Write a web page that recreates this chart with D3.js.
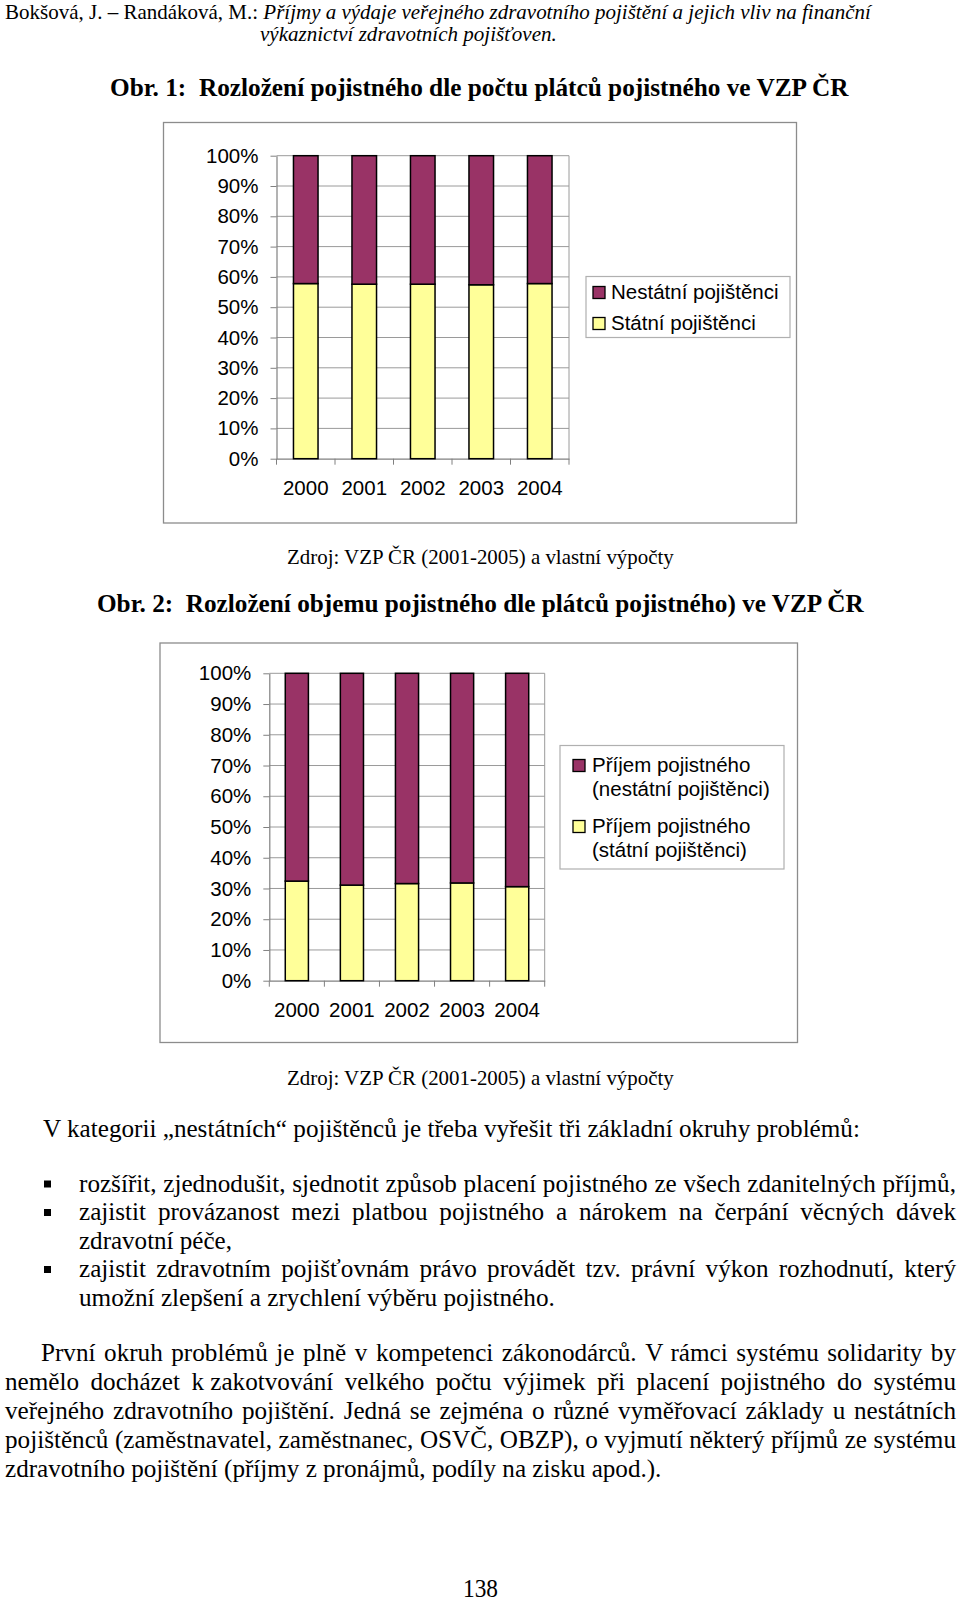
<!DOCTYPE html>
<html><head><meta charset="utf-8">
<script src="https://cdn.jsdelivr.net/npm/d3@7"></script>
<style>body{margin:0;background:#fff} svg{display:block}</style>
</head><body>
<svg id="page" width="960" height="1601"></svg>
<script>
// ---------- DATA ----------
const years = ["2000", "2001", "2002", "2003", "2004"];
const yTicks = [0, 10, 20, 30, 40, 50, 60, 70, 80, 90, 100];
// Obr. 1
const statni1 = [57.8, 57.6, 57.6, 57.4, 57.8];
const nestatni1 = [42.2, 42.4, 42.4, 42.6, 42.2];
const legend1 = [["Nestátní pojištěnci"], ["Státní pojištěnci"]];
// Obr. 2
const statni2 = [32.4, 31.1, 31.6, 31.8, 30.6];
const nestatni2 = [67.6, 68.9, 68.4, 68.2, 69.4];
const legend2 = [["Příjem pojistného", "(nestátní pojištěnci)"], ["Příjem pojistného", "(státní pojištěnci)"]];

const headerLine1 = [{t: "Bokšová, J. – Randáková, M.: ", i: false}, {t: "Příjmy a výdaje veřejného zdravotního pojištění a jejich vliv na finanční", i: true}];
const headerLine2 = "výkaznictví zdravotních pojišťoven.";
const title1 = "Obr. 1:\u00A0\u00A0Rozložení pojistného dle počtu plátců pojistného ve VZP ČR";
const title2 = "Obr. 2:\u00A0\u00A0Rozložení objemu pojistného dle plátců pojistného) ve VZP ČR";
const source = "Zdroj: VZP ČR (2001-2005) a vlastní výpočty";
const introLine = "V kategorii „nestátních“ pojištěnců je třeba vyřešit tři základní okruhy problémů:";
const bulletLines = [
  "rozšířit, zjednodušit, sjednotit způsob placení pojistného ze všech zdanitelných příjmů,",
  "zajistit provázanost mezi platbou pojistného a nárokem na čerpání věcných dávek",
  "zdravotní péče,",
  "zajistit zdravotním pojišťovnám právo provádět tzv. právní výkon rozhodnutí, který",
  "umožní zlepšení a zrychlení výběru pojistného."
];
const paraLines = [
  "První okruh problémů je plně v kompetenci zákonodárců. V rámci systému solidarity by",
  "nemělo docházet k\u00A0zakotvování velkého počtu výjimek při placení pojistného do systému",
  "veřejného zdravotního pojištění. Jedná se zejména o různé vyměřovací základy u nestátních",
  "pojištěnců (zaměstnavatel, zaměstnanec, OSVČ, OBZP), o vyjmutí některý příjmů ze systému",
  "zdravotního pojištění (příjmy z pronájmů, podíly na zisku apod.)."
];
const pageNumber = "138";

// ---------- DRAW ----------
const svg = d3.select("#page");
svg.append("rect").attr("width", 960).attr("height", 1601).attr("fill", "#fff");
const SERIF = "'Liberation Serif','Times New Roman',serif";
const SANS = "'Liberation Sans',Arial,sans-serif";
const PURPLE = "#993366", YELLOW = "#FFFF99", GRID = "#9a9a9a";
const CHART_FS = 20.5;

let condense = 0.95;

function fitText(parts, x, y, w, size, opts = {}) {
  const g = svg.append("g");
  const t = g.append("text").attr("font-family", SERIF).attr("font-size", size)
    .attr("font-weight", opts.bold ? "bold" : "normal").attr("fill", "#000");
  parts.forEach(p => t.append("tspan").text(p.t).attr("font-style", p.i ? "italic" : "normal"));
  const nat = t.node().getComputedTextLength();
  const s = w / nat;
  g.attr("transform", `translate(${x},${y}) scale(${s},1)`);
  return s;
}

function justifyText(str, x, y, w, size) {
  const g = svg.append("g");
  const t = g.append("text").attr("font-family", SERIF).attr("font-size", size).attr("fill", "#000");
  const words = str.split(" ");
  const spans = words.map(wd => t.append("tspan").text(wd));
  const ws = spans.map(s => s.node().getComputedTextLength());
  const sum = d3.sum(ws);
  let c = condense;
  let gap = (w / c - sum) / (words.length - 1);
  if (gap < 0.2 * size) { gap = 0.2 * size; c = w / (sum + gap * (words.length - 1)); }
  let cx = 0;
  spans.forEach((s, i) => { s.attr("x", cx); cx += ws[i] + gap; });
  g.attr("transform", `translate(${x},${y}) scale(${c},1)`);
}

// Header
fitText(headerLine1, 5, 19, 866, 20);
fitText([{t: headerLine2, i: true}], 260, 41, 297, 20);
fitText([{t: title1}], 110, 96, 739, 26, {bold: true});
fitText([{t: source}], 287, 563.5, 387, 22);
fitText([{t: title2}], 97, 611.5, 767, 26, {bold: true});
fitText([{t: source}], 287, 1084.5, 387, 22);

// Body text
condense = fitText([{t: introLine}], 43, 1137, 817, 25);
const bulletY = [1191.5, 1220, 1248.5, 1277, 1305.5];
const bulletJust = [true, true, false, true, false];
const bulletW = [877, 877, 153, 877, 476];
const bulletMark = [true, true, false, true, false];
bulletLines.forEach((ln, i) => {
  if (bulletJust[i]) justifyText(ln, 79, bulletY[i], bulletW[i], 25);
  else fitText([{t: ln}], 79, bulletY[i], bulletW[i], 25);
  if (bulletMark[i]) svg.append("rect").attr("x", 44).attr("y", bulletY[i] - 11).attr("width", 7).attr("height", 7).attr("fill", "#000");
});
const paraY = [1361, 1390, 1419, 1448, 1477];
const paraX = [41, 5, 5, 5, 5];
const paraW = [915, 951, 951, 951, 657];
paraLines.forEach((ln, i) => {
  if (i < 4) justifyText(ln, paraX[i], paraY[i], paraW[i], 25);
  else fitText([{t: ln}], paraX[i], paraY[i], paraW[i], 25);
});
fitText([{t: pageNumber}], 463, 1597, 35, 25);

// Charts
function drawChart(cfg) {
  const {frame, plot, statni, nestatni, legend} = cfg;
  const g = svg.append("g");
  g.append("rect").attr("x", frame[0]).attr("y", frame[1]).attr("width", frame[2] - frame[0]).attr("height", frame[3] - frame[1])
    .attr("fill", "#fff").attr("stroke", "#8c8c8c").attr("stroke-width", 1.3);

  const x = d3.scaleBand().domain(years).range([plot.x0, plot.x1]).paddingInner(0.58).paddingOuter(0.29);
  const y = d3.scaleLinear().domain([0, 100]).range([plot.y1, plot.y0]);

  // gridlines
  g.append("g").selectAll("line").data(yTicks.filter(d => d > 0)).join("line")
    .attr("x1", plot.x0).attr("x2", plot.x1).attr("y1", d => y(d)).attr("y2", d => y(d))
    .attr("stroke", GRID).attr("stroke-width", 1);
  g.append("line").attr("x1", plot.x1).attr("x2", plot.x1).attr("y1", plot.y0).attr("y2", plot.y1)
    .attr("stroke", GRID).attr("stroke-width", 1);

  // y axis
  const ya = g.append("g").attr("transform", `translate(${plot.x0},0)`)
    .call(d3.axisLeft(y).tickValues(yTicks).tickSize(6).tickPadding(12).tickSizeOuter(0).tickFormat(d => d + "%"));
  ya.select(".domain").attr("stroke", "#808080").attr("stroke-width", 1.2);
  ya.selectAll(".tick line").attr("stroke", "#808080");
  ya.selectAll("text").attr("font-family", SANS).attr("font-size", CHART_FS).attr("fill", "#000");

  // x axis
  const xa = g.append("g").attr("transform", `translate(0,${plot.y1})`)
    .call(d3.axisBottom(x).tickSize(0).tickPadding(21.5).tickSizeOuter(0));
  xa.select(".domain").attr("stroke", "#808080").attr("stroke-width", 1.2);
  xa.selectAll("text").attr("font-family", SANS).attr("font-size", CHART_FS).attr("fill", "#000");
  const step = x.step();
  g.append("g").selectAll("line").data(d3.range(years.length + 1)).join("line")
    .attr("x1", i => plot.x0 + i * step).attr("x2", i => plot.x0 + i * step)
    .attr("y1", plot.y1).attr("y2", plot.y1 + 6).attr("stroke", "#808080");

  // stacked bars
  const rows = years.map((yr, i) => ({year: yr, statni: statni[i], nestatni: nestatni[i]}));
  const stack = d3.stack().keys(["statni", "nestatni"])(rows);
  const colors = {statni: YELLOW, nestatni: PURPLE};
  g.append("g").selectAll("g").data(stack).join("g").attr("fill", d => colors[d.key])
    .selectAll("rect").data(d => d).join("rect")
    .attr("x", d => x(d.data.year)).attr("width", x.bandwidth())
    .attr("y", d => y(d[1])).attr("height", d => y(d[0]) - y(d[1]))
    .attr("stroke", "#000").attr("stroke-width", 1.5);

  // legend
  const L = cfg.leg;
  g.append("rect").attr("x", L.x0).attr("y", L.y0).attr("width", L.x1 - L.x0).attr("height", L.y1 - L.y0)
    .attr("fill", "#fff").attr("stroke", "#b0b0b0").attr("stroke-width", 1.2);
  const legColors = [PURPLE, YELLOW];
  legend.forEach((lines, i) => {
    g.append("rect").attr("x", L.sx).attr("y", L.sy[i]).attr("width", 12).attr("height", 12)
      .attr("fill", legColors[i]).attr("stroke", "#000").attr("stroke-width", 1.3);
    lines.forEach((ln, j) => {
      g.append("text").attr("x", L.tx).attr("y", L.ty[i] + j * L.lh).text(ln)
        .attr("font-family", SANS).attr("font-size", CHART_FS).attr("fill", "#000");
    });
  });
}

drawChart({
  frame: [163.5, 122.5, 796.5, 523],
  plot: {x0: 276.5, x1: 569, y0: 155.7, y1: 458.7},
  statni: statni1, nestatni: nestatni1, legend: legend1,
  leg: {x0: 586, x1: 790, y0: 276.5, y1: 337.5, sx: 593, sy: [286.5, 317.5], tx: 611, ty: [299, 329.5], lh: 25}
});
drawChart({
  frame: [160, 643, 797.5, 1042.5],
  plot: {x0: 269.3, x1: 544.7, y0: 673.3, y1: 980.7},
  statni: statni2, nestatni: nestatni2, legend: legend2,
  leg: {x0: 560, x1: 784, y0: 745.5, y1: 869, sx: 573, sy: [759.5, 820.5], tx: 592, ty: [771.5, 832.5], lh: 24.5}
});
</script>
</body></html>
